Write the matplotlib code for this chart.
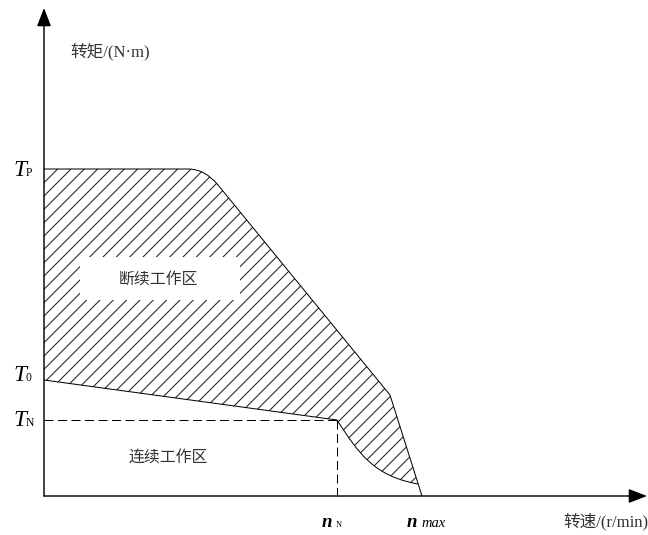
import numpy as np
import matplotlib
matplotlib.use("Agg")
import matplotlib.pyplot as plt
from matplotlib.path import Path
from matplotlib.patches import PathPatch, Rectangle

# speed / torque landmarks (arbitrary drawing units, origin at axes corner)
n_N = 293
n_max = 378
T_P = 327
T_0 = 116
T_N = 76

# peak-torque boundary: flat, rounded shoulder, field-weakening line, knee
peak_flat_end = 144
peak_corner_ctrl = (161, T_P)
peak_corner_end = (174, 311)
peak_knee = (346, 101)

# continuous boundary beyond rated speed (cubic bezier) and its end on the peak line
cont_ctrl1 = (315, 42)
cont_ctrl2 = (330, 20)
cont_end = (374, 12)

x_axis_len = 603
y_axis_len = 488

labels_cn = {"torque": "转矩/(N·m)", "speed": "转速/(r/min)",
             "intermittent": "断续工作区", "continuous": "连续工作区"}

plt.rcParams['hatch.linewidth'] = 0.9

fig = plt.figure(figsize=(648 / 80, 535 / 80), dpi=80)
ax = fig.add_axes([0, 0, 1, 1])
ax.set_xlim(-44, 604)
ax.set_ylim(-39, 496)
ax.set_axis_off()

serif_cn = ['Liberation Serif', 'Noto Sans CJK SC']

# hatched intermittent region (edge drawn at zero width, colour used by hatch)
verts = [(0, T_0), (0, T_P), (peak_flat_end, T_P), peak_corner_ctrl, peak_corner_end,
         peak_knee, cont_end, cont_ctrl2, cont_ctrl1, (n_N, T_N), (0, T_0), (0, T_0)]
codes = [Path.MOVETO, Path.LINETO, Path.LINETO, Path.CURVE3, Path.CURVE3,
         Path.LINETO, Path.LINETO, Path.CURVE4, Path.CURVE4, Path.CURVE4,
         Path.LINETO, Path.CLOSEPOLY]
ax.add_patch(PathPatch(Path(verts, codes), facecolor='none', edgecolor='#1a1a1a',
                       lw=0, hatch='//', zorder=1))

# peak torque outline
upper = Path([(0, T_P), (peak_flat_end, T_P), peak_corner_ctrl, peak_corner_end,
              peak_knee, (n_max, 0)],
             [Path.MOVETO, Path.LINETO, Path.CURVE3, Path.CURVE3, Path.LINETO, Path.LINETO])
ax.add_patch(PathPatch(upper, facecolor='none', edgecolor='black', lw=0.9, zorder=3))

# continuous torque outline
lower = Path([(0, T_0), (n_N, T_N), cont_ctrl1, cont_ctrl2, cont_end],
             [Path.MOVETO, Path.LINETO, Path.CURVE4, Path.CURVE4, Path.CURVE4])
ax.add_patch(PathPatch(lower, facecolor='none', edgecolor='black', lw=0.9, zorder=3))

# rated point guide lines
ax.plot([0, n_N], [T_N, T_N], color='black', lw=0.9, dashes=(9, 4.5), zorder=2)
ax.plot([n_N, n_N], [T_N, 0], color='black', lw=0.9, dashes=(9, 4.5), zorder=2)

# white box behind the intermittent-zone label
ax.add_patch(Rectangle((36, 196), 160, 43, facecolor='white', edgecolor='none', zorder=2))
ax.text(114, 216, labels_cn["intermittent"], family=serif_cn, fontsize=14.3,
        color='#333333', ha='center', va='center', zorder=4)
ax.text(124, 38, labels_cn["continuous"], family=serif_cn, fontsize=14.3,
        color='#333333', ha='center', va='center', zorder=4)

# axes with arrow heads
arrow = dict(arrowstyle='-|>,head_length=0.7,head_width=0.27', color='black',
             lw=1.3, mutation_scale=20, shrinkA=0, shrinkB=0)
ax.annotate('', xy=(x_axis_len, 0), xytext=(0, 0), arrowprops=arrow, zorder=5)
ax.annotate('', xy=(0, y_axis_len), xytext=(0, 0), arrowprops=arrow, zorder=5)

ax.text(26, 444, labels_cn["torque"], family=serif_cn, fontsize=15,
        color='#333333', ha='left', va='center')
ax.text(519, -26, labels_cn["speed"], family=serif_cn, fontsize=15,
        color='#333333', ha='left', va='center')

# torque level labels
t_font = dict(family='Liberation Serif', style='italic', fontsize=21, color='black')
sub_font = dict(family='Liberation Serif', fontsize=10.5, color='black')
for level, base, sub in [(T_P, T_P - 7, 'P'), (T_0, T_0 - 1, '0'), (T_N, T_N - 6, 'N')]:
    ax.text(-31, base, 'T', va='baseline', ha='left', **t_font)
    ax.text(-18, base, sub, va='baseline', ha='left', **sub_font)

# speed labels
n_font = dict(family='Liberation Serif', style='italic', weight='bold', fontsize=17,
              color='black')
ax.text(n_N - 15, -31, 'n', va='baseline', ha='left', **n_font)
ax.text(n_N - 1, -31, 'N', va='baseline', ha='left', family='Liberation Serif',
        fontsize=7.5, color='black')
ax.text(n_max - 15, -31, 'n', va='baseline', ha='left', **n_font)
ax.text(n_max - 1, -31, 'max', va='baseline', ha='left', family='Liberation Serif',
        style='italic', fontsize=13, color='black')

fig.savefig('out.png', dpi=80)
